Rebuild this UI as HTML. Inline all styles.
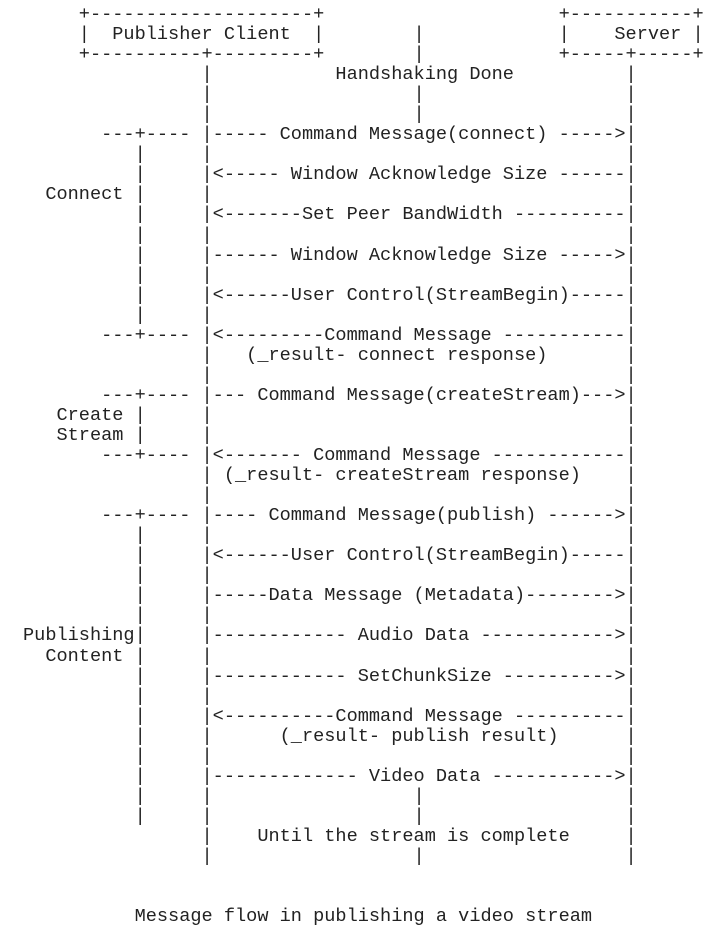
<!DOCTYPE html>
<html><head><meta charset="utf-8"><style>
html,body{margin:0;padding:0;background:#fff;width:724px;height:939px;overflow:hidden}
pre{position:absolute;left:23px;top:5px;margin:0;font-family:"Liberation Mono",monospace;font-size:18.6px;line-height:20.05px;color:#222}
</style></head><body><pre>     +--------------------+                     +-----------+
     |  Publisher Client  |        |            |    Server |
     +----------+---------+        |            +-----+-----+
                |           Handshaking Done          |
                |                  |                  |
                |                  |                  |
       ---+---- |----- Command Message(connect) ----->|
          |     |                                     |
          |     |&lt;----- Window Acknowledge Size ------|
  Connect |     |                                     |
          |     |&lt;-------Set Peer BandWidth ----------|
          |     |                                     |
          |     |------ Window Acknowledge Size ----->|
          |     |                                     |
          |     |&lt;------User Control(StreamBegin)-----|
          |     |                                     |
       ---+---- |&lt;---------Command Message -----------|
                |   (_result- connect response)       |
                |                                     |
       ---+---- |--- Command Message(createStream)--->|
   Create |     |                                     |
   Stream |     |                                     |
       ---+---- |&lt;------- Command Message ------------|
                | (_result- createStream response)    |
                |                                     |
       ---+---- |---- Command Message(publish) ------>|
          |     |                                     |
          |     |&lt;------User Control(StreamBegin)-----|
          |     |                                     |
          |     |-----Data Message (Metadata)-------->|
          |     |                                     |
Publishing|     |------------ Audio Data ------------>|
  Content |     |                                     |
          |     |------------ SetChunkSize ---------->|
          |     |                                     |
          |     |&lt;----------Command Message ----------|
          |     |      (_result- publish result)      |
          |     |                                     |
          |     |------------- Video Data ----------->|
          |     |                  |                  |
          |     |                  |                  |
                |    Until the stream is complete     |
                |                  |                  |


          Message flow in publishing a video stream</pre></body></html>
